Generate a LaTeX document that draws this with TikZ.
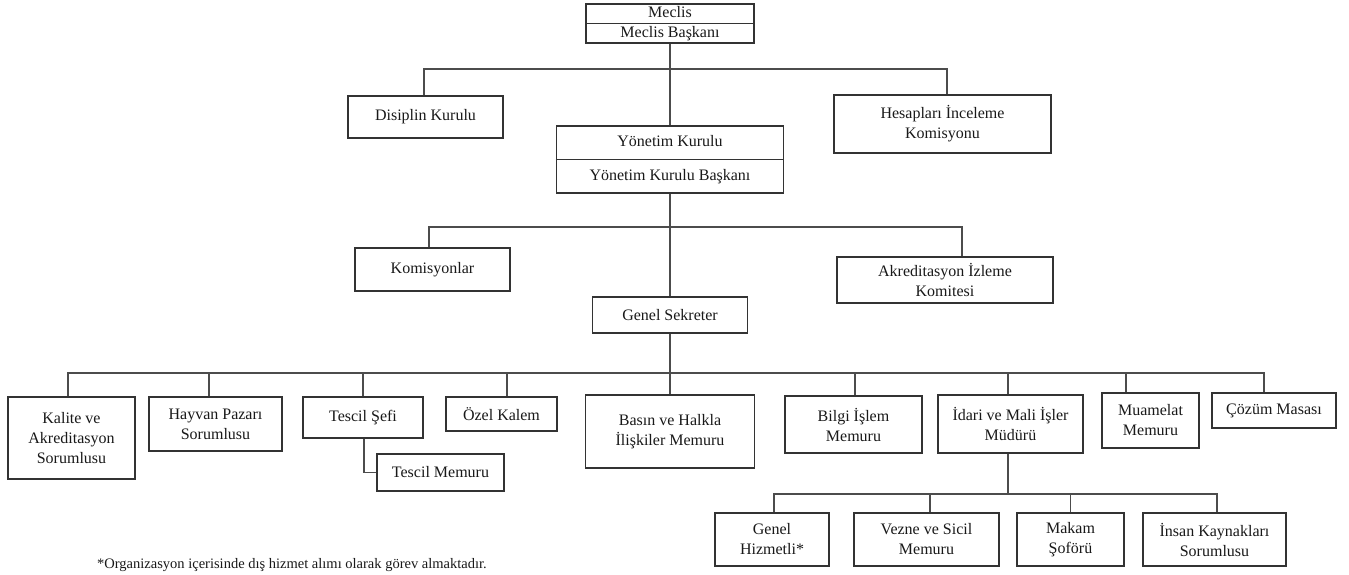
\documentclass[tikz,border=0pt]{standalone}
\usepackage{fontspec}
\setmainfont{Liberation Serif}
\begin{document}
\begin{tikzpicture}[x=1pt,y=-1pt,
  box/.style={draw=black!80, line width=1.3pt, fill=white, align=center, inner sep=0pt,
    font=\fontsize{16}{20}\selectfont, text=black!90},
  conn/.style={draw=black!70, line width=1.2pt},
  note/.style={font=\fontsize{14.5}{17}\selectfont, text=black!90, inner sep=0pt}]
\useasboundingbox[fill=white] (0,0) rectangle (1349,575);

% top levels
\node[box, minimum width=168pt, minimum height=39pt] (meclis) at (670,23.5)
  {Meclis\\[-0.5pt]Meclis Başkanı};
\node[box, minimum width=155pt, minimum height=42pt] (disiplin) at (425.5,117) {Disiplin Kurulu};
\node[box, minimum width=217pt, minimum height=58pt] (hesap) at (942.5,124) {Hesapları İnceleme\\Komisyonu};
\node[box, minimum width=227pt, minimum height=67pt] (yonetim) at (670,159.5)
  {Yönetim Kurulu\\[13.5pt]Yönetim Kurulu Başkanı};
\node[box, minimum width=155pt, minimum height=43pt] (komis) at (432.5,269.5) {Komisyonlar};
\node[box, minimum width=216pt, minimum height=46pt] (akred) at (945,280) {Akreditasyon İzleme\\Komitesi};
\node[box, minimum width=155pt, minimum height=36pt] (gensek) at (670,315) {Genel Sekreter};

% dividers
\draw[black!80, line width=1.2pt] (meclis.west) -- (meclis.east);
\draw[black!80, line width=1.2pt] (yonetim.west) -- (yonetim.east);

% bottom row
\node[box, minimum width=127pt, minimum height=82pt] (kalite) at (71.5,438) {Kalite ve\\Akreditasyon\\Sorumlusu};
\node[box, minimum width=133pt, minimum height=54pt] (hayvan) at (215.5,424) {Hayvan Pazarı\\Sorumlusu};
\node[box, minimum width=120pt, minimum height=41pt] (tescilsef) at (363,417.5) {Tescil Şefi};
\node[box, minimum width=127pt, minimum height=37pt] (tescilmem) at (440.5,472.5) {Tescil Memuru};
\node[box, minimum width=111pt, minimum height=34pt] (ozel) at (501.5,414) {Özel Kalem};
\node[box, minimum width=169pt, minimum height=73pt] (basin) at (670,431.5) {Basın ve Halkla\\İlişkiler Memuru};
\node[box, minimum width=137pt, minimum height=57pt] (bilgi) at (853.5,424.5) {Bilgi İşlem\\Memuru};
\node[box, minimum width=145pt, minimum height=58pt] (idari) at (1010.5,424) {İdari ve Mali İşler\\Müdürü};
\node[box, minimum width=97pt, minimum height=55pt] (muamelat) at (1150.5,420.5) {Muamelat\\Memuru};
\node[box, minimum width=124pt, minimum height=35pt] (cozum) at (1274,410.5) {Çözüm Masası};

% lowest row
\node[box, minimum width=114pt, minimum height=53pt] (genhiz) at (772,539.5) {Genel\\Hizmetli*};
\node[box, minimum width=145pt, minimum height=53pt] (vezne) at (926.5,539.5) {Vezne ve Sicil\\Memuru};
\node[box, minimum width=107pt, minimum height=53pt] (makam) at (1070.5,539.5) {Makam\\Şoförü};
\node[box, minimum width=143pt, minimum height=53pt] (insan) at (1214.5,539.5) {İnsan Kaynakları\\Sorumlusu};

% junctions
\coordinate (j1) at (670,69);
\coordinate (j2) at (670,227);
\coordinate (j3) at (670,373);
\coordinate (j4) at (1008,494);

% connectors
\begin{scope}[on background layer/.style={}]
\path[conn] (meclis.south) -- (yonetim.north);
\path[conn] ([xshift=-1.5pt]disiplin.north) |- (j1) -| ([xshift=4.5pt]hesap.north);
\path[conn] (yonetim.south) -- (gensek.north);
\path[conn] ([xshift=-3.5pt]komis.north) |- (j2) -| ([xshift=17pt]akred.north);
\path[conn] (gensek.south) -- (basin.north);
\path[conn] ([xshift=-3.5pt]kalite.north) |- (j3) -| ([xshift=-10pt]cozum.north);
\path[conn] ([xshift=-6.5pt]hayvan.north) -- ([xshift=-6.5pt]hayvan.north |- j3);
\path[conn] (tescilsef.north) -- (tescilsef.north |- j3);
\path[conn] ([xshift=5.5pt]ozel.north) -- ([xshift=5.5pt]ozel.north |- j3);
\path[conn] ([xshift=1.5pt]bilgi.north) -- ([xshift=1.5pt]bilgi.north |- j3);
\path[conn] ([xshift=-2.5pt]idari.north) -- ([xshift=-2.5pt]idari.north |- j3);
\path[conn] ([xshift=-24.5pt]muamelat.north) -- ([xshift=-24.5pt]muamelat.north |- j3);
\path[conn] ([xshift=1pt]tescilsef.south) |- (tescilmem.west);
\path[conn] ([xshift=-2.5pt]idari.south) -- (j4);
\path[conn] ([xshift=2pt]genhiz.north) |- (j4) -| ([xshift=2.5pt]insan.north);
\path[conn] ([xshift=3.5pt]vezne.north) -- ([xshift=3.5pt]vezne.north |- j4);
\path[conn] (makam.north) -- (makam.north |- j4);
\end{scope}

\node[note, anchor=west] (footnote) at (97,565)
  {*Organizasyon içerisinde dış hizmet alımı olarak görev almaktadır.};
\end{tikzpicture}
\end{document}
